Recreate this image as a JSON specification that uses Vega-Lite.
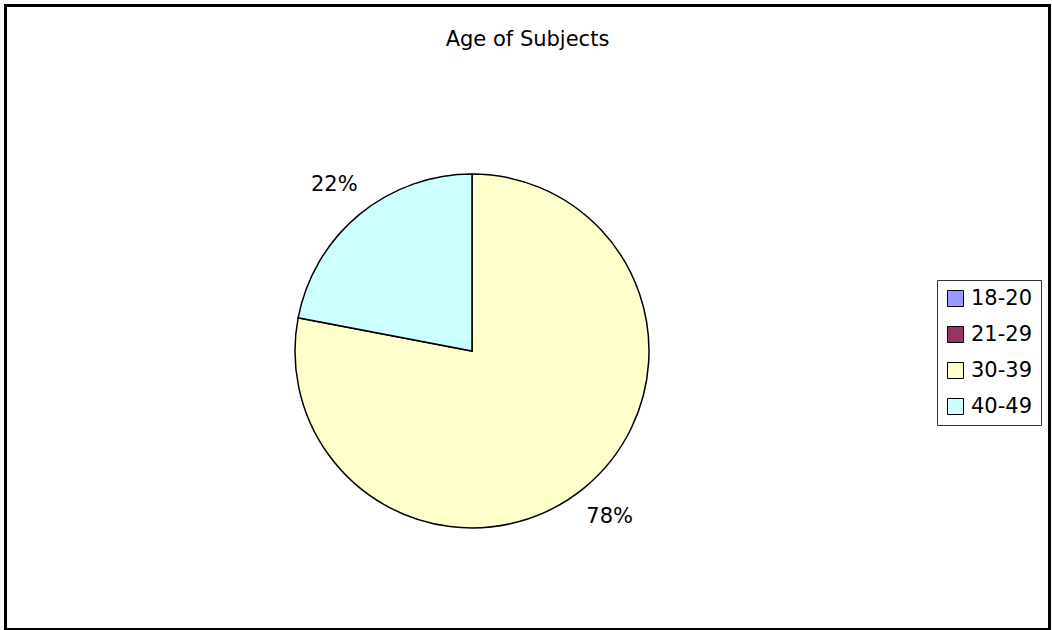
{
  "$schema": "https://vega.github.io/schema/vega-lite/v6.json",
  "width": 1044,
  "height": 624,
  "autosize": {"type": "none"},
  "padding": {"left": 5.5, "top": 5.5, "right": 2.5, "bottom": 0.5},
  "background": "white",
  "view": {"stroke": "black", "strokeWidth": 3, "fill": "white"},
  "config": {"view": {"stroke": "black", "strokeWidth": 3}, "font": "DejaVu Sans"},
  "title": {"text": "Age of Subjects", "fontSize": 21, "fontWeight": "normal", "color": "black", "font": "DejaVu Sans", "anchor": "middle", "offset": 0, "baseline": "alphabetic", "dy": 61.5},
  "data": {"values": [
    {"age": "18-20", "share": 0},
    {"age": "21-29", "share": 0},
    {"age": "30-39", "share": 0.78},
    {"age": "40-49", "share": 0.22}
  ]},
  "encoding": {
    "theta": {"field": "share", "type": "quantitative", "stack": true},
    "order": {"field": "age", "type": "ordinal", "sort": "ascending"}
  },
  "layer": [
    {
      "mark": {"type": "arc", "x": 466.5, "y": 345.5, "outerRadius": 177, "stroke": "black", "strokeWidth": 1.5},
      "encoding": {
        "color": {
          "field": "age", "type": "nominal",
          "scale": {"domain": ["18-20", "21-29", "30-39", "40-49"], "range": ["#9999FF", "#993366", "#FFFFCC", "#CCFFFF"]},
          "legend": {"orient": "none", "legendX": 931.5, "legendY": 274.5, "title": null, "symbolType": "square", "symbolSize": 256, "symbolStrokeColor": "black", "symbolStrokeWidth": 1, "labelFontSize": 21, "labelFont": "DejaVu Sans", "labelColor": "black", "rowPadding": 14, "padding": 8, "strokeColor": "#333333", "fillColor": "white", "labelOffset": 5}
        }
      }
    },
    {
      "transform": [{"filter": "datum.share > 0"}],
      "mark": {"type": "text", "x": 466.5, "y": 345.5, "radius": 216, "fontSize": 21, "font": "DejaVu Sans", "color": "black", "align": "center", "baseline": "middle"},
      "encoding": {
        "text": {"field": "share", "type": "quantitative", "format": ".0%"}
      }
    }
  ]
}
